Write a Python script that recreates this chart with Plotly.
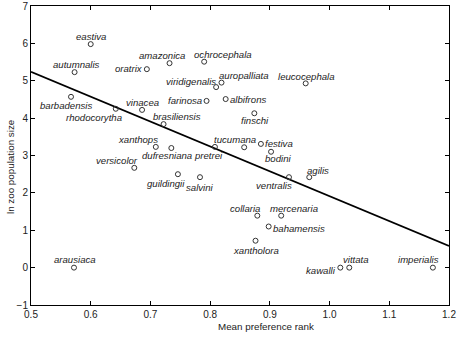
import plotly.graph_objects as go

species = ["eastiva", "autumnalis", "amazonica", "ochrocephala", "oratrix", "viridigenalis",
           "auropalliata", "farinosa", "albifrons", "leucocephala", "finschi", "barbadensis",
           "rhodocorytha", "vinacea", "brasiliensis", "xanthops", "versicolor", "dufresniana",
           "pretrei", "tucumana", "festiva", "bodini", "guildingii", "salvini", "ventralis",
           "agilis", "arausiaca", "collaria", "mercenaria", "bahamensis", "xantholora",
           "kawalli", "vittata", "imperialis"]
pref_rank = [0.600, 0.573, 0.732, 0.790, 0.694, 0.810,
             0.819, 0.794, 0.826, 0.960, 0.874, 0.567,
             0.642, 0.686, 0.722, 0.709, 0.673, 0.735,
             0.808, 0.857, 0.885, 0.902, 0.746, 0.783, 0.932,
             0.966, 0.572, 0.879, 0.919, 0.898, 0.876,
             1.018, 1.033, 1.173]
ln_pop = [5.98, 5.23, 5.47, 5.51, 5.31, 4.83,
          4.95, 4.46, 4.51, 4.93, 4.13, 4.57,
          4.25, 4.22, 3.84, 3.23, 2.67, 3.20,
          3.23, 3.22, 3.31, 3.10, 2.50, 2.42, 2.42,
          2.42, 0.0, 1.39, 1.39, 1.10, 0.72,
          0.0, 0.0, 0.0]

fit_x = [0.5, 1.2]
fit_y = [5.24, 0.58]

x_ticks = [0.5, 0.6, 0.7, 0.8, 0.9, 1.0, 1.1, 1.2]
x_tick_text = ["0.5", "0.6", "0.7", "0.8", "0.9", "1.0", "1.1", "1.2"]
y_ticks = [-1, 0, 1, 2, 3, 4, 5, 6, 7]

# label offsets in pixels (dx right, dy down) of label centre from point
label_offsets = {
    "eastiva": (0, -7.5), "autumnalis": (1.7, -8), "amazonica": (-8, -7.3),
    "ochrocephala": (19, -7.4), "oratrix": (-17.5, -0.6), "viridigenalis": (-25, -5.6),
    "auropalliata": (23, -7), "farinosa": (-21.7, 0), "albifrons": (22.6, 0.7),
    "leucocephala": (1, -6.6), "finschi": (0.7, 7.7), "barbadensis": (-5.4, 9),
    "rhodocorytha": (-21.7, 8.7), "vinacea": (0, -7.3), "brasiliensis": (13.7, -7.3),
    "xanthops": (-17.7, -7.7), "versicolor": (-17, -7.3), "dufresniana": (-4.8, 7.5),
    "pretrei": (-6.2, 8.7), "tucumana": (-8.8, -7.3), "festiva": (17.8, -0.7),
    "bodini": (6.7, 7), "guildingii": (-11.5, 9.7), "salvini": (0, 10),
    "ventralis": (-15.4, 8.7), "agilis": (8.5, -7), "arausiaca": (1.3, -7.7),
    "collaria": (-12.3, -7.4), "mercenaria": (12.9, -7.4), "bahamensis": (30.1, 2.3),
    "xantholora": (0, 9.3), "kawalli": (-19, 3), "vittata": (6.8, -8),
    "imperialis": (-14.3, -8),
}

FONT = "Liberation Sans, Arial, sans-serif"
L, R, T, B, W, H = 31, 10, 6, 39, 459, 344
PW, PH = W - L - R, H - T - B

fig = go.Figure()
fig.add_trace(go.Scatter(x=fit_x, y=fit_y, mode="lines",
                         line=dict(color="black", width=1.6), hoverinfo="skip"))
fig.add_trace(go.Scatter(x=pref_rank, y=ln_pop, mode="markers",
                         marker=dict(symbol="circle-open", size=5, color="#333333",
                                     line=dict(width=1, color="#333333"))))

for name, xv, yv in zip(species, pref_rank, ln_pop):
    dx, dy = label_offsets[name]
    fig.add_annotation(x=xv, y=yv, text=f"<i>{name}</i>", showarrow=False,
                       xanchor="center", yanchor="middle", xshift=dx, yshift=-dy,
                       font=dict(family=FONT, size=9.6, color="#222222"))

fig.add_annotation(x=(266 - L) / PW, y=-(326 - (H - B)) / PH, xref="paper", yref="paper",
                   text="Mean preference rank", showarrow=False,
                   xanchor="center", yanchor="middle",
                   font=dict(family=FONT, size=9.8, color="#222222"))
fig.add_annotation(x=-(L - 10) / PW, y=((H - B) - 167) / PH, xref="paper", yref="paper",
                   text="ln zoo population size", textangle=-90, showarrow=False,
                   xanchor="center", yanchor="middle",
                   font=dict(family=FONT, size=9.8, color="#222222"))

axis_common = dict(showline=True, linecolor="black", linewidth=1, mirror="ticks",
                   ticks="inside", ticklen=4, tickcolor="black", showgrid=False,
                   zeroline=False, automargin=False,
                   tickfont=dict(family=FONT, size=10, color="#222222"))

fig.update_layout(
    template="none",
    width=W, height=H,
    margin=dict(l=L, r=R, t=T, b=B, pad=0),
    paper_bgcolor="white", plot_bgcolor="white",
    showlegend=False,
    xaxis=dict(range=[0.5, 1.2], tickvals=x_ticks, ticktext=x_tick_text, **axis_common),
    yaxis=dict(range=[-1, 7], tickvals=y_ticks, **axis_common),
)

fig.write_html("out.html", config={"displayModeBar": False},
               post_script="document.body.style.margin='0';document.body.style.overflow='hidden';")
